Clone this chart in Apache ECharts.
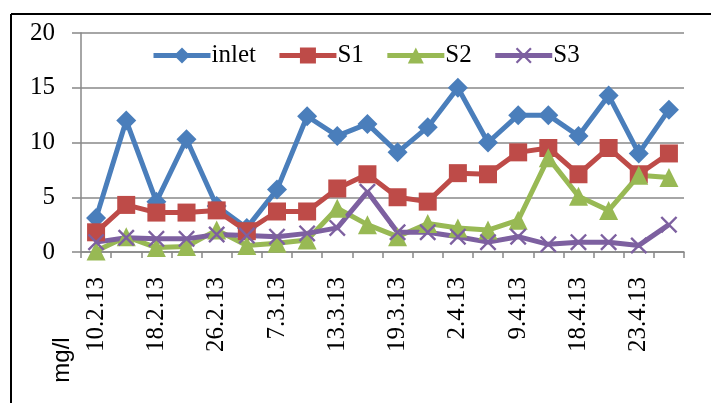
<!DOCTYPE html>
<html>
<head>
<meta charset="utf-8">
<script src="https://cdn.jsdelivr.net/npm/echarts@6/dist/echarts.min.js"></script>
<style>
  html, body { margin: 0; padding: 0; background: #fff; }
  #main { width: 711px; height: 403px; }
</style>
</head>
<body>
<div id="main"></div>
<script>
// sampling dates (only every other one is labelled on the chart)
var categories = ['10.2.13', '', '18.2.13', '', '26.2.13', '', '7.3.13', '', '13.3.13', '',
  '19.3.13', '', '2.4.13', '', '9.4.13', '', '18.4.13', '', '23.4.13', ''];
var yTicks = [0, 5, 10, 15, 20];

var inlet = [3.1, 12.0, 4.6, 10.3, 4.2, 2.2, 5.7, 12.4, 10.6, 11.7, 9.1, 11.4, 15.0, 10.0, 12.5, 12.5, 10.6, 14.3, 9.0, 13.0];
var s1 = [1.8, 4.3, 3.6, 3.6, 3.8, 1.9, 3.7, 3.7, 5.8, 7.1, 5.0, 4.6, 7.2, 7.1, 9.1, 9.5, 7.1, 9.5, 7.1, 9.0];
var s2 = [0.1, 1.4, 0.4, 0.5, 2.0, 0.6, 0.8, 1.1, 4.0, 2.5, 1.4, 2.6, 2.2, 2.0, 2.9, 8.6, 5.1, 3.8, 7.0, 6.8];
var s3 = [0.9, 1.3, 1.2, 1.2, 1.6, 1.5, 1.4, 1.7, 2.2, 5.5, 1.8, 1.8, 1.4, 0.9, 1.4, 0.7, 0.9, 0.9, 0.6, 2.5];

// thin "x" marker
var xMark = 'path://M0,1L1,0L5,4L9,0L10,1L6,5L10,9L9,10L5,6L1,10L0,9L4,5Z';
var serif = '"Liberation Serif", "Times New Roman", serif';

function mkSeries(name, data, color, symbol, size) {
  return {
    name: name,
    type: 'line',
    data: data,
    symbol: symbol,
    symbolSize: size,
    showAllSymbol: true,
    lineStyle: { color: color, width: 5 },
    itemStyle: { color: color },
    emphasis: { disabled: true },
    animation: false
  };
}

var myChart = echarts.init(document.getElementById('main'));
var option = {
  backgroundColor: '#fff',
  animation: false,
  grid: { left: 81, right: 27, top: 33, bottom: 151 },
  legend: {
    top: 38,
    left: 146,
    itemWidth: 57,
    itemHeight: 20,
    itemGap: 21,
    lineStyle: { width: 5 },
    textStyle: { fontFamily: serif, fontSize: 25, color: '#000', padding: [0, 0, 0, -4] },
    data: ['inlet', 'S1', 'S2', 'S3']
  },
  xAxis: {
    type: 'category',
    data: categories,
    boundaryGap: true,
    axisLine: { lineStyle: { color: '#888', width: 1.5 } },
    axisTick: { show: true, interval: 0, length: 6, lineStyle: { color: '#888', width: 1.5 } },
    axisLabel: {
      interval: 0,
      rotate: 90,
      margin: 25,
      fontFamily: serif,
      fontSize: 25,
      color: '#000'
    },
    splitLine: { show: false }
  },
  yAxis: {
    type: 'value',
    min: yTicks[0],
    max: yTicks[yTicks.length - 1],
    interval: yTicks[1] - yTicks[0],
    axisLine: { show: true, lineStyle: { color: '#888', width: 1.5 } },
    axisTick: { show: true, length: 9, lineStyle: { color: '#888', width: 1.5 } },
    axisLabel: { margin: 26, fontFamily: serif, fontSize: 25, color: '#000' },
    splitLine: { lineStyle: { color: '#888', width: 1.5 } }
  },
  graphic: [
    { type: 'line', shape: { x1: 11, y1: 14, x2: 711, y2: 14 }, style: { stroke: '#000', lineWidth: 2 } },
    { type: 'line', shape: { x1: 11, y1: 14, x2: 11, y2: 403 }, style: { stroke: '#000', lineWidth: 2 } },
    {
      type: 'text', x: 62, y: 360, rotation: Math.PI / 2,
      style: {
        text: 'mg/l', fill: '#000', fontSize: 24,
        fontFamily: '"Liberation Sans", Arial, sans-serif',
        align: 'center', verticalAlign: 'middle'
      }
    }
  ],
  series: [
    mkSeries('inlet', inlet, '#4A7EBB', 'diamond', 20),
    mkSeries('S1', s1, '#BE4B48', 'rect', 18),
    mkSeries('S2', s2, '#98B954', 'triangle', 19),
    mkSeries('S3', s3, '#7D60A0', xMark, 17)
  ]
};
myChart.setOption(option);
window.addEventListener('resize', function () {
  myChart.resize();
});
</script>
</body>
</html>
